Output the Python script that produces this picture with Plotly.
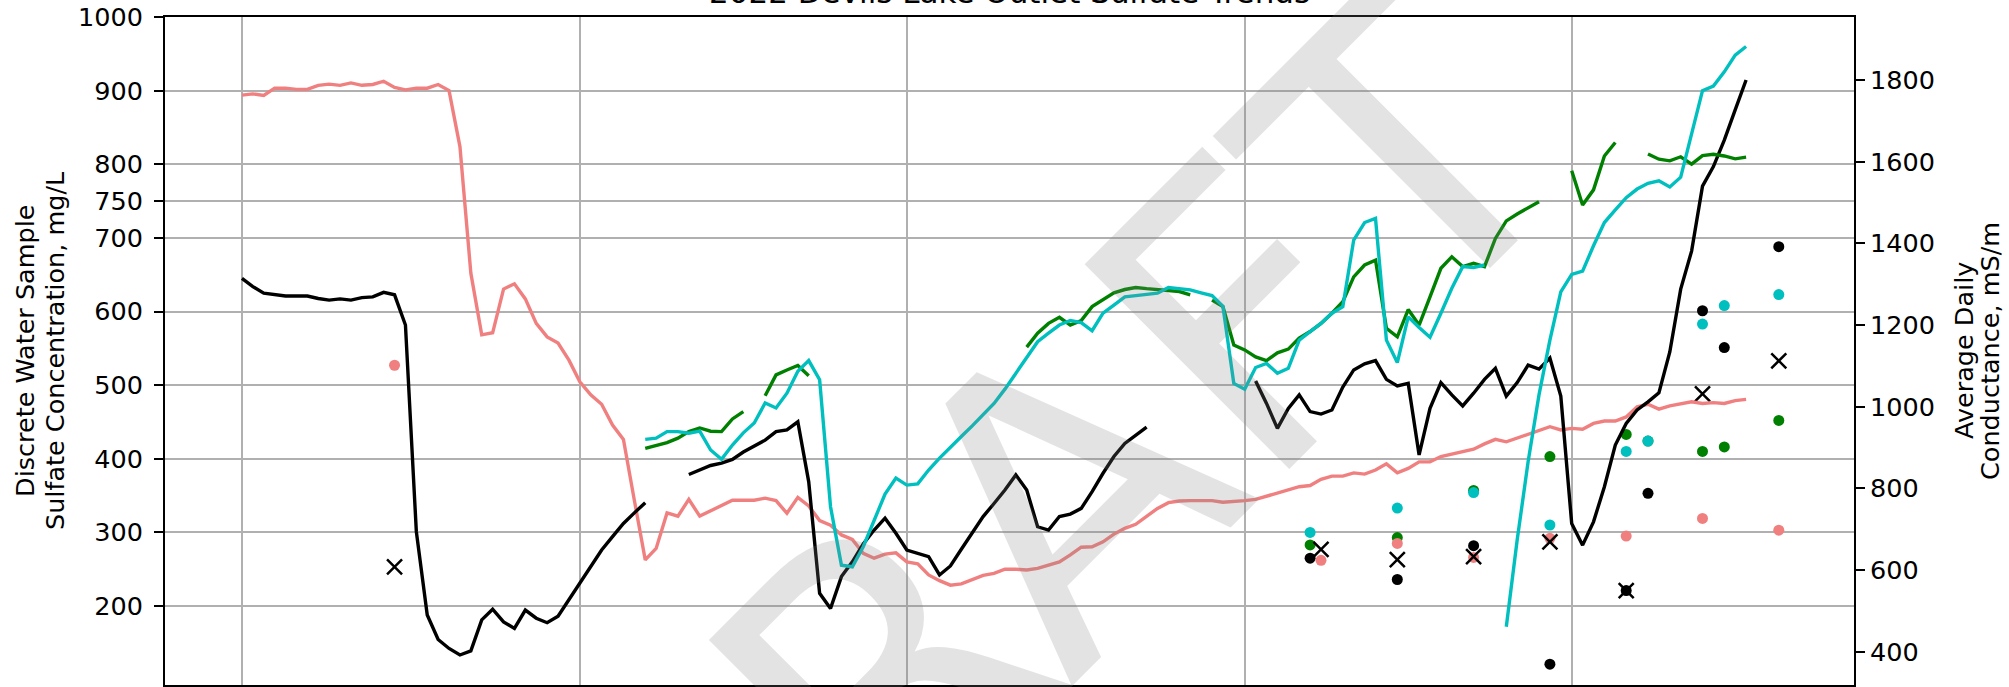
import plotly.graph_objects as go

# ---------------- data ----------------
# x axis: day index (day 0 = first month gridline)
month_start_days = [0, 31, 61, 92, 122]
minor_tick_days = [5, 25, 45, 65, 85, 105, 125, 145]

# Average daily conductance (right axis, mS/m), one value per day
salmon_start = 0
salmon_cond = [
    1763, 1766, 1762, 1780, 1780, 1777, 1777, 1787, 1790, 1787,
    1793, 1787, 1789, 1797, 1782, 1776, 1780, 1780, 1789, 1774,
    1637, 1327, 1176, 1181, 1288, 1301, 1264, 1204, 1171, 1156,
    1114, 1061, 1029, 1006, 955, 920, 771, 625, 653, 740,
    732, 773, 732, 745, 757, 771, 771, 771, 776, 770,
    739, 778, 757, 721, 710, 686, 675, 641, 629, 639,
    642, 620, 615, 588, 574, 563, 566, 577, 587, 592,
    602, 602, 600, 604, 611, 620, 637, 656, 657, 669,
    688, 702, 712, 731, 751, 765, 769, 770, 771, 770,
    766, 767, 770, 773, 781, 788, 796, 804, 807, 822,
    830, 830, 838, 835, 845, 860, 838, 849, 865, 865,
    878, 884, 890, 896, 909, 920, 914, 923, 931, 941,
    951, 943, 947, 945, 959, 965, 965, 975, 1000, 1006,
    994, 1002, 1006, 1012, 1008, 1010, 1008, 1015, 1018,
]

black_start_1 = 0
black_cond_1 = [
    1314, 1294, 1278, 1274, 1271, 1271, 1271, 1265, 1261, 1264,
    1261, 1267, 1269, 1280, 1274, 1200, 694, 490, 430, 408,
    392, 402, 478, 504, 473, 457, 502, 482, 471, 487,
    527, 567, 608, 649, 682, 714, 740, 765,
]
black_start_2 = 41
black_cond_2 = [
    834, 846, 856, 862, 871, 889, 904, 918, 939, 943,
    963, 816, 543, 506, 584, 620, 664, 698, 727, 690,
    649, 641, 633, 588, 610, 651, 691, 731, 763, 796,
    833, 796, 706, 698, 731, 737, 751, 792, 837, 878,
    910, 931, 950,
]
black_start_3 = 93
black_cond_3 = [
    1063, 1008, 947, 996, 1029, 988, 982, 992, 1048, 1090,
    1105, 1113, 1067, 1051, 1057, 882, 996, 1059, 1029, 1002,
    1033, 1067, 1094, 1026, 1059, 1102, 1092, 1119, 1026, 714,
    661, 718, 804, 906, 959, 992, 1012, 1034, 1134, 1288,
    1381, 1540, 1588, 1653, 1727, 1800,
]

cyan_start_1 = 37
cyan_cond_1 = [
    920, 923, 939, 939, 935, 940, 894, 871, 906, 936,
    960, 1009, 997, 1033, 1087, 1113, 1066, 755, 612, 608,
    657, 723, 786, 825, 808, 811, 845, 874, 902, 927,
    953, 980, 1008, 1043, 1082, 1122, 1159, 1180, 1200, 1211,
    1206, 1186, 1229, 1249, 1269, 1272, 1274, 1278, 1292, 1289,
    1286, 1279, 1272, 1246, 1057, 1043, 1096, 1106, 1082, 1094,
    1163, 1184, 1204, 1229, 1245, 1408, 1451, 1461, 1163, 1108,
    1220, 1194, 1170, 1229, 1290, 1343, 1341, 1347,
]
cyan_start_2 = 116
cyan_cond_2 = [
    461, 674, 865, 1029, 1163, 1281, 1324, 1332, 1394, 1451,
    1482, 1512, 1533, 1547, 1553, 1538, 1562, 1670, 1774, 1785,
    1820, 1861, 1882,
]

green_start_1 = 37
green_cond_1 = [898, 906, 912, 923, 939, 948, 940, 939, 970, 988]
green_start_2 = 48
green_cond_2 = [1027, 1078, 1090, 1101, 1076]
green_start_3 = 72
green_cond_3 = [1146, 1180, 1204, 1219, 1200, 1211, 1245, 1263, 1279, 1287,
                1292, 1289, 1286, 1285, 1282, 1274]
green_start_4 = 89
green_cond_4 = [1261, 1245, 1151, 1139, 1122, 1113, 1132, 1141, 1168, 1184,
                1204, 1229, 1257, 1318, 1347, 1359, 1192, 1171, 1238, 1200,
                1269, 1339, 1367, 1343, 1351, 1343, 1412, 1455, 1472, 1488,
                1502]
green_start_5 = 122
green_cond_5 = [1578, 1494, 1531, 1614, 1647]
green_start_6 = 129
green_cond_6 = [1619, 1606, 1602, 1612, 1594, 1615, 1618, 1614, 1607, 1611]

# Discrete water samples (left axis, mg/L)
salmon_sample_days = [14, 99, 106, 113, 120, 127, 134, 141]
salmon_sulfate = [527, 262, 285, 266, 292, 295, 319, 303]
green_sample_days = [98, 106, 113, 120, 127, 129, 134, 136, 141]
green_sulfate = [283, 293, 357, 403, 433, 424, 410, 416, 452]
black_sample_days = [98, 106, 113, 120, 127, 129, 134, 136, 141]
black_sulfate = [265, 236, 282, 121, 221, 353, 601, 551, 688]
cyan_sample_days = [98, 106, 113, 120, 127, 129, 134, 136, 141]
cyan_sulfate = [300, 333, 354, 310, 410, 424, 583, 608, 623]
x_sample_days = [14, 99, 106, 113, 120, 127, 134, 141]
x_sulfate = [253, 277, 263, 267, 287, 221, 488, 533]

left_ticks = [200, 300, 400, 500, 600, 700, 750, 800, 900, 1000]
right_ticks = [400, 600, 800, 1000, 1200, 1400, 1600, 1800]

# ---------------- figure ----------------
FONT = "DejaVu Sans"
SALMON = "#F08080"
CYAN = "#00BFBF"
GREEN = "#008000"
BLACK = "#000000"

fig = go.Figure()


def add_line(start, values, color):
    fig.add_trace(go.Scatter(
        x=list(range(start, start + len(values))), y=values,
        mode="lines", line=dict(color=color, width=3.4),
        yaxis="y2", showlegend=False, hoverinfo="skip"))


add_line(salmon_start, salmon_cond, SALMON)
for s, v in [(black_start_1, black_cond_1), (black_start_2, black_cond_2),
             (black_start_3, black_cond_3)]:
    add_line(s, v, BLACK)
for s, v in [(green_start_1, green_cond_1), (green_start_2, green_cond_2),
             (green_start_3, green_cond_3), (green_start_4, green_cond_4),
             (green_start_5, green_cond_5), (green_start_6, green_cond_6)]:
    add_line(s, v, GREEN)
for s, v in [(cyan_start_1, cyan_cond_1), (cyan_start_2, cyan_cond_2)]:
    add_line(s, v, CYAN)


def add_dots(days, vals, color):
    fig.add_trace(go.Scatter(
        x=days, y=vals, mode="markers",
        marker=dict(color=color, size=11, line=dict(width=0)),
        yaxis="y", showlegend=False, hoverinfo="skip"))


add_dots(green_sample_days, green_sulfate, GREEN)
add_dots(black_sample_days, black_sulfate, BLACK)
add_dots(salmon_sample_days, salmon_sulfate, SALMON)
add_dots(cyan_sample_days, cyan_sulfate, CYAN)
fig.add_trace(go.Scatter(
    x=x_sample_days, y=x_sulfate, mode="markers",
    marker=dict(symbol="x-thin", size=15, color=BLACK,
                line=dict(color=BLACK, width=2.5)),
    yaxis="y", showlegend=False, hoverinfo="skip"))

PLOT_L, PLOT_R, PLOT_T, PLOT_B = 165, 1854, 17, 685
W, H = 2009, 687
pw = PLOT_R - PLOT_L
ph = PLOT_B - PLOT_T


def px_x(px):
    return (px - PLOT_L) / pw


def px_y(py):
    return (PLOT_B - py) / ph


axis_common = dict(
    showline=True, linecolor="black", linewidth=2,
    ticks="outside", ticklen=9, tickwidth=2, tickcolor="black",
    zeroline=False, automargin=False,
    tickfont=dict(family=FONT, size=25.5, color="black"),
)

fig.update_layout(
    width=W, height=H, autosize=False,
    margin=dict(l=PLOT_L, r=W - PLOT_R, t=PLOT_T, b=H - PLOT_B, pad=0),
    paper_bgcolor="white", plot_bgcolor="white",
    font=dict(family=FONT, color="black"),
    xaxis=dict(
        range=[-7.06, 147.9], tickmode="array", tickvals=month_start_days,
        showticklabels=False, showgrid=True, gridcolor="#b0b0b0", gridwidth=2,
        mirror=True,
        minor=dict(tickmode="array", tickvals=minor_tick_days, ticks="outside",
                   ticklen=5, tickwidth=1.5, tickcolor="black", showgrid=False),
        **axis_common),
    yaxis=dict(
        range=[92.7, 1000], tickmode="array", tickvals=left_ticks,
        ticktext=[str(t) for t in left_ticks],
        showgrid=True, gridcolor="#b0b0b0", gridwidth=2, side="left",
        ticklabelstandoff=6,
        **axis_common),
    yaxis2=dict(
        range=[318.5, 1954.3], tickmode="array", tickvals=right_ticks,
        ticktext=[str(t) for t in right_ticks],
        showgrid=False, overlaying="y", side="right",
        ticklabelstandoff=0,
        **axis_common),
)

annotations = [
    dict(text="2022 Devils Lake Outlet Sulfate Trends", xref="paper", yref="paper",
         x=0.5, y=1, xanchor="center", yanchor="bottom", yshift=5,
         showarrow=False, font=dict(family=FONT, size=31, color="black")),
    dict(text="Discrete Water Sample", xref="paper", yref="paper",
         x=px_x(25), y=0.5, xanchor="center", yanchor="middle", textangle=-90,
         showarrow=False, font=dict(family=FONT, size=25.5, color="black")),
    dict(text="Sulfate Concentration, mg/L", xref="paper", yref="paper",
         x=px_x(55), y=0.5, xanchor="center", yanchor="middle", textangle=-90,
         showarrow=False, font=dict(family=FONT, size=25.5, color="black")),
    dict(text="Average Daily", xref="paper", yref="paper",
         x=px_x(1964), y=0.5, xanchor="center", yanchor="middle", textangle=-90,
         showarrow=False, font=dict(family=FONT, size=25.5, color="black")),
    dict(text="Conductance, mS/m", xref="paper", yref="paper",
         x=px_x(1990), y=0.5, xanchor="center", yanchor="middle", textangle=-90,
         showarrow=False, font=dict(family=FONT, size=25.5, color="black")),
    dict(text="DRAFT", xref="paper", yref="paper",
         x=px_x(1034), y=px_y(529), xanchor="center", yanchor="middle",
         textangle=-45, showarrow=False,
         font=dict(family=FONT, size=397, color="rgba(128,128,128,0.22)")),
]
fig.update_layout(annotations=annotations)

fig.write_html(
    "out.html",
    config={"displayModeBar": False},
    post_script="document.body.style.margin='0px';"
                "document.body.style.overflow='hidden';",
)
